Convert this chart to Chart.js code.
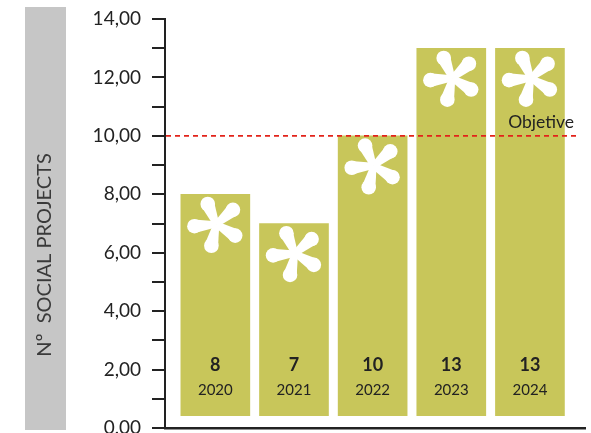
<!DOCTYPE html>
<html>
<head>
<meta charset="utf-8">
<script src="https://cdn.jsdelivr.net/npm/chart.js@4"></script>
<style>
  html, body { margin: 0; padding: 0; background: #fff; }
  #wrap { width: 591px; height: 433px; }
</style>
</head>
<body>
<div id="wrap"><canvas id="projChart"></canvas></div>
<script>
// datos del gráfico
const years = ['2020', '2021', '2022', '2023', '2024'];
const projects = [8, 7, 10, 13, 13];
const objective = 10;
const objectiveLabel = 'Objetive';
const axisTitle = 'Nº  SOCIAL PROJECTS';

const FONT = 'Lato, "Open Sans", sans-serif';
const barColor = '#c8c65a';

// una "estrella" blanca de 5 petalos
function drawAsterisk(ctx, cx, cy) {
  ctx.save();
  ctx.fillStyle = '#ffffff';
  for (let k = 0; k < 5; k++) {
    const a = (-113 + k * 72) * Math.PI / 180;
    const dx = Math.cos(a), dy = Math.sin(a);
    const px = -dy, py = dx;
    const tx = cx + dx * 22, ty = cy + dy * 22;
    ctx.beginPath();
    ctx.moveTo(cx + px * 3, cy + py * 3);
    ctx.lineTo(tx + px * 6.8, ty + py * 6.8);
    ctx.lineTo(tx - px * 6.8, ty - py * 6.8);
    ctx.lineTo(cx - px * 3, cy - py * 3);
    ctx.closePath();
    ctx.fill();
    ctx.beginPath();
    ctx.arc(tx, ty, 7.3, 0, Math.PI * 2);
    ctx.fill();
  }
  ctx.restore();
}

// banda gris + titulo vertical
const sideBand = {
  id: 'sideBand',
  beforeDraw(chart) {
    const ctx = chart.ctx;
    ctx.save();
    ctx.fillStyle = '#c6c6c6';
    ctx.fillRect(25, 7, 41, 423);
    ctx.translate(45, 255);
    ctx.rotate(-Math.PI / 2);
    ctx.fillStyle = '#3a3a3a';
    ctx.font = '20px ' + FONT;
    ctx.textAlign = 'center';
    ctx.textBaseline = 'middle';
    ctx.fillText(axisTitle, 0, 0);
    ctx.restore();
  }
};

// etiquetas, asteriscos y linea objetivo
const barDecor = {
  id: 'barDecor',
  afterDatasetsDraw(chart) {
    const ctx = chart.ctx;
    const area = chart.chartArea;
    const yScale = chart.scales.y;
    const bars = chart.getDatasetMeta(0).data;

    bars.forEach((bar, i) => {
      drawAsterisk(ctx, bar.x + 1, bar.y + 30);
      ctx.save();
      ctx.fillStyle = '#222';
      ctx.textAlign = 'center';
      ctx.textBaseline = 'middle';
      ctx.font = 'bold 18px ' + FONT;
      ctx.fillText(String(projects[i]), bar.x, area.bottom - 63);
      ctx.font = '15px ' + FONT;
      ctx.fillText(years[i], bar.x, area.bottom - 38);
      ctx.restore();
    });

    const yObj = yScale.getPixelForValue(objective);
    ctx.save();
    ctx.strokeStyle = '#e2231a';
    ctx.lineWidth = 1.6;
    ctx.setLineDash([5, 4]);
    ctx.beginPath();
    ctx.moveTo(area.left + 1, yObj);
    ctx.lineTo(576, yObj);
    ctx.stroke();
    ctx.setLineDash([]);
    ctx.fillStyle = '#222';
    ctx.font = '17.5px ' + FONT;
    ctx.textAlign = 'right';
    ctx.textBaseline = 'middle';
    ctx.fillText(objectiveLabel, 574, yObj - 13);
    ctx.restore();
  }
};

const ctx = document.getElementById('projChart').getContext('2d');
const projChart = new Chart(ctx, {
  type: 'bar',
  data: {
    datasets: [{
      label: 'Nº social projects',
      data: projects.map((v, i) => ({ x: i, y: v })),
      backgroundColor: barColor,
      borderWidth: 0,
      barThickness: 69,
      base: 0.42
    }]
  },
  options: {
    responsive: true,
    maintainAspectRatio: false,
    animation: false,
    layout: { padding: { left: 0, right: 6, top: 19, bottom: 0 } },
    plugins: {
      legend: { display: false },
      tooltip: { enabled: false }
    },
    scales: {
      x: {
        type: 'linear',
        offset: false,
        min: -0.64,
        max: 4.7,
        grid: { display: false },
        ticks: { display: false },
        border: { display: true, color: '#222', width: 2.5 },
        afterFit(scale) { scale.height = 5; scale.paddingLeft = 0; scale.paddingRight = 0; }
      },
      y: {
        min: 0,
        max: 14,
        ticks: {
          stepSize: 1,
          padding: 11,
          color: '#222',
          font: { family: FONT, size: 19 },
          callback: v => (v % 2 === 0 ? v.toFixed(2).replace('.', ',') : '')
        },
        grid: {
          drawOnChartArea: false,
          drawTicks: true,
          tickLength: 13,
          color: '#222',
          lineWidth: 2
        },
        border: { display: true, color: '#222', width: 2 },
        afterFit(scale) { scale.width = 165; scale.paddingTop = 0; scale.paddingBottom = 0; }
      }
    }
  },
  plugins: [sideBand, barDecor]
});
</script>
</body>
</html>
